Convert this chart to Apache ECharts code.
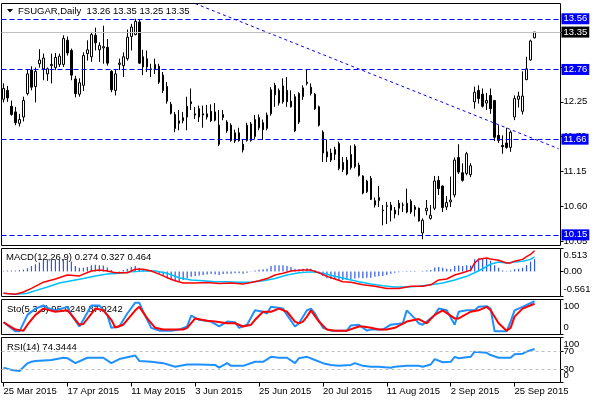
<!DOCTYPE html>
<html><head><meta charset="utf-8">
<script src="https://cdn.jsdelivr.net/npm/echarts@6/dist/echarts.min.js"></script>
<style>html,body{margin:0;padding:0;background:#fff}#c{width:600px;height:400px}</style>
</head><body><div id="c"></div>
<script>
const headerName = 'FSUGAR,Daily';
const tickLabels = ['25 Mar 2015','17 Apr 2015','11 May 2015','3 Jun 2015','25 Jun 2015','20 Jul 2015','11 Aug 2015','2 Sep 2015','25 Sep 2015'];
const barsPerTick = 16;
const slotCount = 140;

const open = [12.29,12.43,12.18,12.09,11.91,12.01,12.38,12.75,12.49,12.85,
12.77,12.69,12.82,12.79,12.84,12.84,13.22,13.06,12.61,12.37,
12.51,13.01,12.96,13.30,13.07,13.10,13.11,12.73,12.43,12.84,
12.82,12.93,13.28,13.31,13.51,12.96,12.93,12.76,12.76,12.81,
12.67,12.49,12.21,12.05,11.91,11.95,12.01,12.25,12.06,12.14,
12.06,12.01,12.10,12.09,11.88,12.00,11.93,11.88,11.63,11.76,
11.58,11.64,11.64,11.70,12.00,11.92,11.83,12.06,12.51,12.43,
12.25,12.43,12.17,12.33,12.38,12.33,12.54,12.48,12.37,12.17,
11.77,11.46,11.44,11.42,11.59,11.29,11.33,11.21,11.55,11.25,
11.08,10.83,11.04,10.62,10.69,10.54,10.60,10.62,10.54,10.57,
10.62,10.51,10.68,10.55,10.57,10.18,10.53,10.41,10.57,11.01,
10.92,10.59,10.67,10.78,11.37,11.13,11.12,11.10,12.25,12.43,
12.37,12.23,12.35,12.27,11.72,11.56,11.60,11.53,12.01,12.29,
12.10,12.60,12.91,13.26];
const high = [12.54,12.50,12.27,12.17,12.06,12.33,12.75,12.81,12.79,13.08,
13.01,12.79,13.01,13.02,13.01,13.30,13.28,13.09,12.66,12.62,
13.03,13.22,13.35,13.42,13.19,13.45,13.24,12.75,12.75,12.93,
13.03,13.39,13.48,13.56,13.54,13.07,13.06,12.85,12.93,12.85,
12.72,12.56,12.25,12.09,12.12,12.09,12.33,12.46,12.17,12.19,
12.19,12.20,12.21,12.23,12.12,12.12,11.96,11.91,11.81,11.84,
11.65,11.92,11.93,12.04,12.05,11.97,12.08,12.48,12.55,12.46,
12.62,12.64,12.43,12.37,12.40,12.51,12.76,12.54,12.39,12.19,
11.80,11.65,11.51,11.54,11.62,11.38,11.38,11.56,11.58,11.29,
11.09,11.02,11.08,10.74,10.92,10.62,10.67,10.67,10.59,10.70,
10.66,10.88,10.71,10.62,10.58,10.41,10.70,10.62,11.08,11.08,
10.93,10.76,11.07,11.37,11.58,11.28,11.46,11.28,12.49,12.51,
12.46,12.39,12.46,12.28,11.88,11.72,11.84,11.80,12.35,12.41,
12.73,12.96,13.23,13.35];
const low = [12.24,12.25,12.03,11.88,11.86,11.94,12.35,12.43,12.24,12.79,
12.59,12.58,12.54,12.75,12.80,12.80,12.98,12.59,12.32,12.33,
12.42,12.90,12.88,13.06,12.88,12.85,12.82,12.40,12.35,12.75,
12.64,12.90,13.06,13.30,12.85,12.67,12.72,12.64,12.69,12.53,
12.39,12.22,12.05,11.77,11.80,11.91,11.80,12.12,11.98,11.93,
11.84,11.97,11.93,11.94,11.55,11.96,11.76,11.62,11.60,11.62,
11.45,11.62,11.62,11.66,11.80,11.65,11.80,12.03,12.17,12.19,
12.22,12.17,12.16,11.77,11.90,12.28,12.51,12.35,12.12,11.86,
11.30,11.30,11.30,11.33,11.17,11.14,11.09,11.18,11.20,11.07,
10.79,10.81,10.70,10.58,10.59,10.30,10.32,10.36,10.41,10.46,
10.51,10.49,10.48,10.44,10.36,10.08,10.46,10.39,10.54,10.78,
10.51,10.54,10.59,10.74,11.11,10.99,11.09,11.06,12.14,12.22,
12.16,12.12,12.06,11.63,11.60,11.43,11.51,11.46,11.96,12.16,
12.05,12.59,12.90,13.25];
const close = [12.46,12.31,12.05,11.92,11.97,12.27,12.69,12.48,12.73,12.91,
12.94,12.77,12.84,12.95,12.97,13.25,13.02,12.67,12.38,12.55,
12.98,13.07,13.31,13.18,13.14,13.12,12.86,12.44,12.69,12.86,
12.96,13.27,13.43,13.52,12.86,12.80,12.80,12.77,12.84,12.56,
12.43,12.26,12.07,11.83,11.95,12.00,12.18,12.22,12.04,12.01,
12.04,12.06,11.95,11.96,11.58,12.05,11.79,11.64,11.76,11.64,
11.49,11.88,11.90,11.97,11.84,11.81,12.04,12.44,12.36,12.23,
12.50,12.25,12.26,11.79,11.93,12.47,12.56,12.38,12.14,11.88,
11.44,11.38,11.33,11.50,11.20,11.18,11.11,11.42,11.23,11.09,
10.81,11.00,10.71,10.69,10.74,10.53,10.61,10.54,10.48,10.65,
10.62,10.65,10.51,10.59,10.37,10.38,10.57,10.46,11.00,10.88,
10.58,10.66,10.70,11.33,11.14,11.01,11.43,11.24,12.40,12.30,
12.18,12.27,12.14,11.69,11.64,11.54,11.53,11.77,12.30,12.34,
12.34,12.77,13.21,13.35];

const priceTicks = [10.05,10.60,11.15,11.70,12.25,12.80,13.35];
const blueLevels = [13.56,12.76,11.66,10.15];
const lastPrice = 13.35;
const trendLine = [[48,13.80],[139,11.51]];

const macdHist = [0.01,0.02,0.02,0.02,0.03,0.04,0.07,0.12,0.16,0.20,
0.26,0.27,0.28,0.27,0.26,0.28,0.27,0.22,0.12,0.08,
0.08,0.10,0.14,0.15,0.14,0.13,0.09,0.03,0.00,0.01,
0.03,0.06,0.10,0.12,0.08,0.05,0.04,0.02,0.00,-0.05,
-0.10,-0.15,-0.20,-0.22,-0.22,-0.19,-0.15,-0.12,-0.10,-0.09,
-0.08,-0.07,-0.06,-0.07,-0.08,-0.06,-0.05,-0.05,-0.04,-0.04,
-0.05,-0.03,-0.01,0.02,0.04,0.05,0.06,0.12,0.14,0.14,
0.14,0.12,0.10,0.06,0.05,0.06,0.07,0.06,0.03,-0.02,
-0.10,-0.15,-0.17,-0.17,-0.19,-0.19,-0.19,-0.17,-0.16,-0.14,
-0.15,-0.14,-0.14,-0.12,-0.11,-0.10,-0.08,-0.05,-0.03,-0.02,
-0.01,0.01,0.01,0.01,0.00,0.01,0.02,0.03,0.09,0.10,
0.08,0.06,0.05,0.12,0.13,0.12,0.14,0.13,0.27,0.29,
0.28,0.28,0.24,0.14,0.08,0.02,0.01,0.02,0.05,0.06,
0.08,0.14,0.22,0.274];
const macdRed = [[0,-0.49],[3,-0.51],[5,-0.46],[7,-0.38],[10,-0.24],[13,-0.17],[16,-0.08],[19,-0.10],[22,0.01],[24,0.03],[26,0.01],[28,-0.03],[31,-0.03],[33,0.05],[35,0.05],[37,0.01],[39,-0.06],[41,-0.14],[43,-0.21],[45,-0.26],[48,-0.26],[51,-0.25],[54,-0.27],[57,-0.26],[60,-0.28],[62,-0.25],[64,-0.21],[66,-0.16],[68,-0.08],[70,-0.04],[72,0.01],[75,0.03],[77,0.03],[79,-0.03],[81,-0.11],[83,-0.17],[85,-0.23],[87,-0.24],[90,-0.30],[93,-0.33],[96,-0.38],[99,-0.38],[102,-0.33],[105,-0.33],[107,-0.30],[109,-0.19],[111,-0.17],[113,-0.08],[115,-0.03],[117,0.03],[118,0.19],[119,0.27],[121,0.30],[122,0.28],[124,0.25],[126,0.19],[127,0.19],[128,0.23],[130,0.27],[131,0.33],[132,0.38],[133,0.464]];
const macdCyan = [[0,-0.49],[3,-0.51],[6,-0.49],[8,-0.43],[11,-0.35],[14,-0.26],[17,-0.21],[20,-0.16],[23,-0.10],[26,-0.06],[29,-0.04],[32,-0.01],[35,0.01],[38,0.01],[41,-0.04],[44,-0.14],[47,-0.19],[50,-0.21],[53,-0.23],[56,-0.23],[59,-0.24],[62,-0.24],[65,-0.21],[68,-0.16],[71,-0.08],[74,-0.03],[77,-0.01],[80,-0.04],[83,-0.11],[86,-0.17],[89,-0.23],[92,-0.28],[95,-0.32],[98,-0.35],[101,-0.35],[104,-0.33],[107,-0.30],[110,-0.26],[113,-0.19],[116,-0.11],[118,-0.03],[120,0.06],[122,0.16],[124,0.21],[126,0.19],[128,0.21],[130,0.23],[132,0.27],[133,0.327]];
const macdTicks = [0.513,0,-0.561];
const macdTickText = ['0.513','0.00','-0.561'];

const stochK = [[0,35],[3,9],[4,9],[6,56],[8,74],[10,83],[11,76],[13,69],[16,79],[17,56],[19,23],[20,42],[22,83],[24,83],[26,56],[27,19],[29,23],[31,60],[33,91],[34,91],[35,65],[37,19],[39,11],[42,11],[44,14],[46,23],[47,54],[49,42],[52,37],[54,23],[56,37],[58,35],[59,19],[61,28],[63,69],[65,65],[66,60],[67,79],[70,74],[71,56],[73,23],[74,32],[76,69],[77,74],[78,60],[80,19],[82,11],[86,11],[87,26],[89,28],[91,11],[92,14],[95,14],[97,28],[100,32],[101,69],[103,46],[104,32],[105,28],[108,56],[109,74],[111,69],[113,28],[114,65],[116,69],[118,69],[119,79],[121,81],[122,74],[123,9],[126,9],[127,37],[128,69],[130,79],[133,95.02]];
const stochD = [[0,35],[3,14],[5,11],[6,28],[8,56],[10,74],[13,65],[16,69],[17,56],[19,28],[20,30],[23,74],[25,69],[27,42],[28,20],[30,28],[33,69],[34,79],[36,46],[38,19],[40,14],[45,14],[46,19],[48,46],[51,39],[53,37],[56,32],[58,32],[60,23],[62,28],[63,42],[65,65],[67,65],[69,74],[71,65],[73,37],[74,32],[75,37],[76,51],[77,69],[79,37],[81,14],[83,11],[86,11],[89,23],[90,23],[92,19],[94,14],[96,14],[98,19],[101,37],[104,44],[106,32],[108,56],[110,69],[113,46],[114,46],[117,65],[119,69],[121,79],[122,69],[124,32],[126,11],[127,19],[128,51],[130,74],[133,87.92]];
const oscTicks = [100,0];

const rsiPts = [[0,33],[2,28],[4,25.5],[6,42.6],[7,46],[8,48],[12,50],[15,55],[16,54],[18,43],[21,55],[25,55],[27,43],[29,52],[33,60],[34,48],[37,46],[40,43],[43,35],[46,40],[49,40],[53,39],[54,33],[56,43],[57,37],[60,37],[63,46],[65,46],[67,57],[69,55],[71,55],[73,43],[74,54],[76,57],[78,50],[80,43],[82,39],[84,37],[87,39],[88,43],[90,37],[92,35],[94,35],[97,33],[98,35],[101,37],[104,37],[105,35],[107,40],[108,52],[110,45],[112,46],[113,57],[114,54],[117,57],[118,68.5],[121,66],[122,61],[124,55],[127,55],[128,63],[130,64],[131,68.5],[133,74.34]];
const rsiEdgeTicks = [100,0];
const rsiLevels = [70,30];

const macdText = 'MACD(12,26,9) 0.274 0.327 0.464';
const stochText = 'Sto(5,3,3) 95.0249 87.9242';
const rsiText = 'RSI(14) 74.3444';

// ---- build ----
const FONT = '"Liberation Sans", Arial, sans-serif';
const FS = 9.5;
const BLUE = '#0000ff';
const last = close.length - 1;
const headerText = headerName + '  ' + [open[last], high[last], low[last], close[last]].map(v => v.toFixed(2)).join(' ');
const categories = Array.from({length: slotCount}, (_, i) => i);
const candleData = open.map((o, i) => [o, close[i], low[i], high[i]]);

const L = 1.5, W = 559;
const grids = [
  {left: L, top: 3.5, width: W, height: 242},
  {left: L, top: 248.5, width: W, height: 48},
  {left: L, top: 299.5, width: W, height: 35},
  {left: L, top: 337.5, width: W, height: 45}
].map(g => Object.assign(g, {show: true, borderColor: '#000', borderWidth: 1, containLabel: false}));

const isTick = (idx) => idx % barsPerTick === 0 && idx / barsPerTick < tickLabels.length;
const xAxes = [0,1,2,3].map(k => ({
  type: 'category', gridIndex: k, data: categories, boundaryGap: true,
  axisLine: {show: false},
  axisTick: k === 3 ? {show: true, alignWithLabel: true, length: 4, interval: (i) => isTick(i), lineStyle: {color: '#000'}} : {show: false},
  axisLabel: k === 3 ? {show: true, interval: (i) => isTick(i), align: 'left', margin: 4,
    formatter: (v) => tickLabels[Number(v) / barsPerTick], fontSize: FS, fontFamily: FONT, color: '#000'} : {show: false},
  splitLine: {show: false}
}));

const richShift = {
  t: {padding: [14, 0, 0, 0], fontSize: FS, fontFamily: FONT, color: '#000'},
  b: {padding: [0, 0, 14, 0], fontSize: FS, fontFamily: FONT, color: '#000'},
  n: {fontSize: FS, fontFamily: FONT, color: '#000'}
};
const baseY = (k, min, max, ticks, fmt) => ({
  type: 'value', gridIndex: k, position: 'right', offset: 0, min: min, max: max,
  splitLine: {show: false}, axisLine: {show: false},
  axisTick: {show: true, length: 3, customValues: ticks, lineStyle: {color: '#000'}},
  axisLabel: {show: true, customValues: ticks, showMinLabel: true, showMaxLabel: true, hideOverlap: false,
    margin: 3, formatter: fmt, fontSize: FS, fontFamily: FONT, color: '#000', rich: richShift}
});
const edgeFmt = v => v === 100 ? '{t|100}' : (v === 0 ? '{b|0}' : '{n|' + v + '}');
const yAxes = [
  baseY(0, 9.982, 13.801, priceTicks, v => v.toFixed(2)),
  baseY(1, -0.561, 0.513, macdTicks, v => {
    const i = macdTicks.findIndex(t => Math.abs(t - v) < 1e-6);
    const s = i >= 0 ? macdTickText[i] : v.toFixed(2);
    return i === 0 ? '{t|' + s + '}' : (i === macdTicks.length - 1 ? '{b|' + s + '}' : '{n|' + s + '}');
  }),
  baseY(2, 0, 100, oscTicks, edgeFmt),
  baseY(3, 0, 100, rsiLevels, v => '{n|' + v + '}'),
  baseY(3, 0, 100, rsiEdgeTicks, edgeFmt)
];

const levelLabel = (bg) => ({show: true, position: 'end', distance: 1, color: '#fff', backgroundColor: bg,
  padding: [1, 2, 0, 2], fontSize: FS, fontFamily: FONT, formatter: (p) => Number(p.value).toFixed(2)});
const levelMarks = blueLevels.map(v => ({yAxis: v, lineStyle: {color: BLUE, type: [5, 3], width: 1}, label: levelLabel(BLUE)}));
levelMarks.unshift({yAxis: lastPrice, lineStyle: {color: '#c0c0c0', type: 'solid', width: 1}, label: levelLabel('#000000')});

const series = [
  {type: 'line', xAxisIndex: 0, yAxisIndex: 0, data: [], showSymbol: false, silent: true, z: 3,
    itemStyle: {color: BLUE}, lineStyle: {color: BLUE},
    markLine: {symbol: ['none', 'none'], silent: true, animation: false,
      lineStyle: {color: BLUE, type: [5, 3], width: 1}, data: levelMarks}},
  {type: 'line', xAxisIndex: 0, yAxisIndex: 0, data: trendLine, showSymbol: false, silent: true, z: 3,
    lineStyle: {color: BLUE, type: [3, 3], width: 1}},
  {type: 'candlestick', xAxisIndex: 0, yAxisIndex: 0, data: candleData, barWidth: 2, z: 4,
    itemStyle: {color: '#ffffff', color0: '#000000', borderColor: '#000000', borderColor0: '#000000', borderWidth: 1}},
  {type: 'bar', xAxisIndex: 1, yAxisIndex: 1, data: macdHist, barWidth: 1.2, itemStyle: {color: '#2f58e0'}},
  {type: 'line', xAxisIndex: 1, yAxisIndex: 1, data: macdCyan, showSymbol: false, lineStyle: {color: '#00BFFF', width: 1.5}},
  {type: 'line', xAxisIndex: 1, yAxisIndex: 1, data: macdRed, showSymbol: false, lineStyle: {color: '#FF0000', width: 1.5}},
  {type: 'line', xAxisIndex: 2, yAxisIndex: 2, data: stochK, showSymbol: false, lineStyle: {color: '#1E90FF', width: 2}},
  {type: 'line', xAxisIndex: 2, yAxisIndex: 2, data: stochD, showSymbol: false, lineStyle: {color: '#FF0000', width: 2}},
  {type: 'line', xAxisIndex: 3, yAxisIndex: 3, data: rsiPts, showSymbol: false, lineStyle: {color: '#1E90FF', width: 2},
    markLine: {symbol: ['none', 'none'], silent: true, animation: false, label: {show: false},
      lineStyle: {color: '#c0c0c0', type: [3, 3], width: 1},
      data: rsiLevels.map(v => ({yAxis: v}))}}
];

const option = {
  animation: false,
  backgroundColor: '#ffffff',
  grid: grids, xAxis: xAxes, yAxis: yAxes,
  graphic: [
    {type: 'polygon', shape: {points: [[7, 9], [13, 9], [10, 12.5]]}, style: {fill: '#000'}},
    {type: 'text', x: 18, y: 11, style: {text: headerText, fontSize: FS, fontFamily: FONT, fill: '#000', verticalAlign: 'middle', textVerticalAlign: 'middle'}},
    {type: 'text', x: 6, y: 257, style: {text: macdText, fontSize: FS, fontFamily: FONT, fill: '#000', verticalAlign: 'middle', textVerticalAlign: 'middle'}},
    {type: 'text', x: 7, y: 309, style: {text: stochText, fontSize: FS, fontFamily: FONT, fill: '#000', verticalAlign: 'middle', textVerticalAlign: 'middle'}},
    {type: 'text', x: 7, y: 347, style: {text: rsiText, fontSize: FS, fontFamily: FONT, fill: '#000', verticalAlign: 'middle', textVerticalAlign: 'middle'}}
  ],
  series: series
};
const chart = echarts.init(document.getElementById('c'), null, {renderer: 'canvas'});
chart.setOption(option);
</script></body></html>
